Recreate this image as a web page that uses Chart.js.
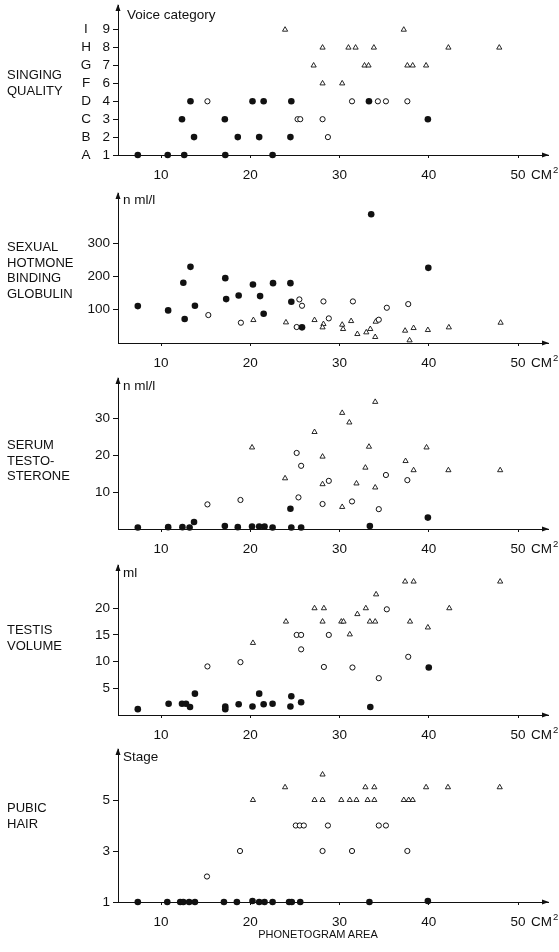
<!DOCTYPE html>
<html>
<head>
<meta charset="utf-8">
<script src="https://cdn.jsdelivr.net/npm/chart.js@4"></script>
<style>
  body { margin: 0; background: #fff; }
  #wrap { position: relative; width: 559px; height: 952px; font-family: "Liberation Sans", Arial, sans-serif; color: #111; }
  canvas { position: absolute; left: 0; }
  .side { position: absolute; left: 7px; font-size: 13px; line-height: 15.5px; }
  #xname { position: absolute; left: 218px; width: 200px; top: 927px; text-align: center; font-size: 11px; line-height: 14px; }
</style>
</head>
<body>
<div id="wrap">
  <canvas id="c1"></canvas>
  <canvas id="c2"></canvas>
  <canvas id="c3"></canvas>
  <canvas id="c4"></canvas>
  <canvas id="c5"></canvas>
  <div class="side" style="top:67px">SINGING<br>QUALITY</div>
  <div class="side" style="top:239px">SEXUAL<br>HOTMONE<br>BINDING<br>GLOBULIN</div>
  <div class="side" style="top:437px">SERUM<br>TESTO-<br>STERONE</div>
  <div class="side" style="top:622px">TESTIS<br>VOLUME</div>
  <div class="side" style="top:800px">PUBIC<br>HAIR</div>
  <div id="xname">PHONETOGRAM AREA</div>
</div>
<script>
// x = phonetogram area (cm2), y = value
const xTicks = [10, 20, 30, 40, 50];

// singing quality (voice category)
const voiceTicks = [1, 2, 3, 4, 6, 7, 8, 9];
const voiceLetters = ['A', 'B', 'C', 'D', 'F', 'G', 'H', 'I'];
const voiceFilled = [[7.4,1],[10.75,1],[12.6,1],[17.2,1],[22.5,1],[13.7,2],[18.6,2],[21.0,2],[24.5,2],[12.35,3],[17.15,3],[39.9,3],[13.3,4],[20.25,4],[21.5,4],[24.6,4],[33.3,4]];
const voiceOpen = [[15.2,4],[25.3,3],[25.6,3],[28.1,3],[28.7,2],[31.4,4],[34.3,4],[35.2,4],[37.6,4]];
const voiceTri = [[23.9,9],[28.1,8],[31.0,8],[31.8,8],[33.85,8],[37.2,9],[42.2,8],[47.9,8],[27.1,7],[32.8,7],[33.25,7],[37.6,7],[38.2,7],[39.7,7],[28.1,6],[30.3,6]];

// sexual hormone binding globulin
const shbgTicks = [100, 200, 300];
const shbgFilled = [[7.4,111],[10.8,98],[12.5,181],[12.65,72],[13.3,229],[13.8,112],[17.2,195],[17.3,132],[18.7,143],[20.3,176],[21.1,141],[21.5,88],[22.55,180],[24.5,180],[24.6,124],[25.8,47],[33.55,387],[39.95,226]];
const shbgOpen = [[15.3,84],[18.95,61],[25.2,48],[25.5,131],[25.8,112],[28.2,125],[28.8,74],[31.5,125],[34.4,70],[35.3,106],[37.7,117]];
const shbgTri = [[20.35,69],[24.0,62],[27.2,69],[28.2,57],[28.1,47],[30.3,55],[30.4,42],[31.3,66],[32.0,27],[33.0,32],[33.45,42],[34.0,18],[34.05,64],[37.35,37],[37.85,8],[38.3,45],[39.9,39],[42.25,47],[48.05,61]];

// serum testosterone
const testoTicks = [10, 20, 30];
const testoFilled = [[7.4,0.4],[10.8,0.5],[12.4,0.5],[13.2,0.4],[13.7,1.9],[17.15,0.8],[18.6,0.5],[20.2,0.7],[21.0,0.7],[21.6,0.7],[22.5,0.4],[24.5,5.5],[24.6,0.4],[25.7,0.4],[33.4,0.8],[39.9,3.1]];
const testoOpen = [[15.2,6.7],[18.9,7.9],[25.2,20.7],[25.4,8.6],[25.7,17.2],[28.1,6.8],[28.8,13.1],[31.4,7.5],[34.4,5.4],[35.2,14.7],[37.6,13.3]];
const testoTri = [[20.2,22.2],[23.9,13.8],[27.2,26.4],[28.1,19.7],[28.1,12.2],[30.3,31.6],[30.3,6.0],[31.1,29.0],[31.9,12.4],[32.9,16.7],[33.3,22.4],[34.0,34.6],[34.0,11.3],[37.4,18.5],[38.3,16.0],[39.75,22.2],[42.2,16.0],[48.0,16.0]];

// testis volume
const testisTicks = [5, 10, 15, 20];
const testisFilled = [[7.4,1.1],[10.85,2.1],[12.35,2.1],[12.8,2.1],[13.25,1.5],[13.8,4.0],[17.2,1.6],[17.2,1.1],[18.7,2.0],[20.25,1.6],[21.0,4.0],[21.5,2.0],[22.5,2.1],[24.5,1.6],[24.6,3.5],[25.7,2.4],[33.45,1.5],[40.0,8.9]];
const testisOpen = [[15.2,9.1],[18.9,9.9],[25.2,15],[25.7,15],[25.7,12.3],[28.25,9.0],[28.8,15],[31.45,8.9],[34.4,6.9],[35.3,19.8],[37.7,10.9]];
const testisTri = [[20.3,13.5],[24.0,17.5],[27.2,20],[28.25,20],[28.1,17.5],[30.2,17.5],[30.45,17.5],[31.15,15.1],[32.0,18.9],[32.95,20],[33.4,17.5],[34.0,17.5],[34.1,22.6],[37.35,25],[38.3,25],[37.9,17.5],[39.9,16.4],[42.3,20],[48.0,25]];

// pubic hair stage
const pubicTicks = [1, 3, 5];
const pubicFilled = [[7.4,1],[10.7,1],[12.15,1],[12.5,1],[13.15,1],[13.8,1],[17.05,1],[18.5,1],[20.25,1.04],[21.0,1],[21.6,1],[22.5,1],[24.35,1],[24.65,1],[25.6,1],[33.35,1],[39.9,1.04]];
const pubicOpen = [[15.15,2],[18.85,3],[25.1,4],[25.55,4],[26.0,4],[28.1,3],[28.7,4],[31.4,3],[34.4,4],[35.2,4],[37.6,3]];
const pubicTri = [[20.3,5],[23.9,5.5],[27.2,5],[28.1,6],[28.1,5],[30.2,5],[31.15,5],[31.9,5],[32.9,5.5],[33.15,5],[33.9,5.5],[33.9,5],[37.2,5],[37.75,5],[38.2,5],[39.7,5.5],[42.15,5.5],[47.95,5.5]];

const FONT = '"Liberation Sans", Arial, sans-serif';
const INK = '#111';

// arrows, axis names, CM2 and voice letters
const decor = {
  id: 'decor',
  afterDraw(chart) {
    const o = chart.options.plugins.decor;
    const a = chart.chartArea;
    const ctx = chart.ctx;
    ctx.save();
    ctx.fillStyle = INK;
    ctx.beginPath();
    ctx.moveTo(a.left, a.top - 1);
    ctx.lineTo(a.left - 2.5, a.top + 6);
    ctx.lineTo(a.left + 2.5, a.top + 6);
    ctx.closePath();
    ctx.fill();
    ctx.beginPath();
    ctx.moveTo(a.right + 1, a.bottom);
    ctx.lineTo(a.right - 6, a.bottom - 2.5);
    ctx.lineTo(a.right - 6, a.bottom + 2.5);
    ctx.closePath();
    ctx.fill();

    ctx.font = '13.5px ' + FONT;
    ctx.textBaseline = 'middle';
    ctx.textAlign = 'left';
    ctx.fillText(o.title, a.left + o.titleDx, a.top + o.titleDy);
    ctx.fillText('CM', 531, a.bottom + 20);
    const w = ctx.measureText('CM').width;
    ctx.font = '9.5px ' + FONT;
    ctx.fillText('2', 531 + w + 1, a.bottom + 15);

    if (o.letters) {
      ctx.font = '13.5px ' + FONT;
      ctx.textAlign = 'center';
      const ys = chart.scales.y;
      o.letters.forEach((l, i) => ctx.fillText(l, 86, ys.getPixelForValue(i + 1)));
    }
    ctx.restore();
  }
};

function pts(list) {
  return list.map(p => ({ x: p[0], y: p[1] }));
}

function makePanel(id, top, height, padTop, xAxisH, p) {
  const canvas = document.getElementById(id);
  canvas.style.top = top + 'px';
  canvas.width = 559;
  canvas.height = height;
  canvas.style.width = '559px';
  canvas.style.height = height + 'px';

  const datasets = [
    { data: pts(p.filled), pointStyle: 'circle', pointRadius: 3.3, pointBorderWidth: 0, backgroundColor: INK, borderColor: INK },
    { data: pts(p.open), pointStyle: 'circle', pointRadius: 2.6, pointBorderWidth: 1, backgroundColor: '#fff', borderColor: INK },
    { data: pts(p.tri), pointStyle: 'triangle', pointRadius: 3, pointBorderWidth: 0.9, backgroundColor: '#fff', borderColor: INK }
  ];
  datasets.forEach(d => { d.clip = false; d.showLine = false; });

  return new Chart(canvas, {
    type: 'scatter',
    data: { datasets },
    options: {
      responsive: false,
      animation: false,
      devicePixelRatio: 1,
      layout: { padding: { left: 0, right: 11, top: padTop, bottom: 0 } },
      plugins: {
        legend: { display: false },
        tooltip: { enabled: false },
        decor: { title: p.title, titleDx: p.titleDx, titleDy: p.titleDy, letters: p.letters }
      },
      scales: {
        x: {
          type: 'linear',
          min: 5.18,
          max: 53.36,
          afterBuildTicks: s => { s.ticks = xTicks.map(v => ({ value: v })); },
          afterFit: s => { s.height = xAxisH; s.paddingLeft = 0; s.paddingRight = 0; },
          ticks: { color: INK, font: { family: FONT, size: 13.5 }, padding: 9, maxRotation: 0 },
          grid: { drawOnChartArea: false, drawTicks: true, tickLength: 3, color: INK },
          border: { display: true, color: INK, width: 1 }
        },
        y: {
          type: 'linear',
          min: p.min,
          max: p.max,
          afterBuildTicks: s => { s.ticks = p.ticks.map(v => ({ value: v })); },
          afterFit: s => { s.width = 118; s.paddingTop = 0; s.paddingBottom = 0; },
          ticks: {
            color: INK, font: { family: FONT, size: 13.5 }, padding: 3,
            callback: p.label || (v => v)
          },
          grid: { drawOnChartArea: false, drawTicks: true, tickLength: 5, color: INK },
          border: { display: true, color: INK, width: 1 }
        }
      }
    },
    plugins: [decor]
  });
}

// voice categories are spaced evenly, so plot them by their rank
const voicePos = v => voiceTicks.indexOf(v) + 1;
const toRank = list => list.map(p => [p[0], voicePos(p[1])]);

makePanel('c1', 0, 188, 3, 33, {
  filled: toRank(voiceFilled), open: toRank(voiceOpen), tri: toRank(voiceTri),
  min: 1, max: 9.38, ticks: voiceTicks.map((v, i) => i + 1),
  label: v => voiceTicks[v - 1],
  letters: voiceLetters, title: 'Voice category', titleDx: 9, titleDy: 10
});
makePanel('c2', 188, 185, 4, 30, {
  filled: shbgFilled, open: shbgOpen, tri: shbgTri,
  min: 0, max: 451, ticks: shbgTicks, title: 'n ml/l', titleDx: 5, titleDy: 7
});
makePanel('c3', 373, 187, 4, 31, {
  filled: testoFilled, open: testoOpen, tri: testoTri,
  min: 0, max: 41.1, ticks: testoTicks, title: 'n ml/l', titleDx: 5, titleDy: 8
});
makePanel('c4', 560, 182, 5, 27, {
  filled: testisFilled, open: testisOpen, tri: testisTri,
  min: 0, max: 28.1, ticks: testisTicks, title: 'ml', titleDx: 5, titleDy: 8
});
makePanel('c5', 742, 210, 7, 50, {
  filled: pubicFilled, open: pubicOpen, tri: pubicTri,
  min: 1, max: 7.0, ticks: pubicTicks, title: 'Stage', titleDx: 5, titleDy: 8
});
</script>
</body>
</html>
